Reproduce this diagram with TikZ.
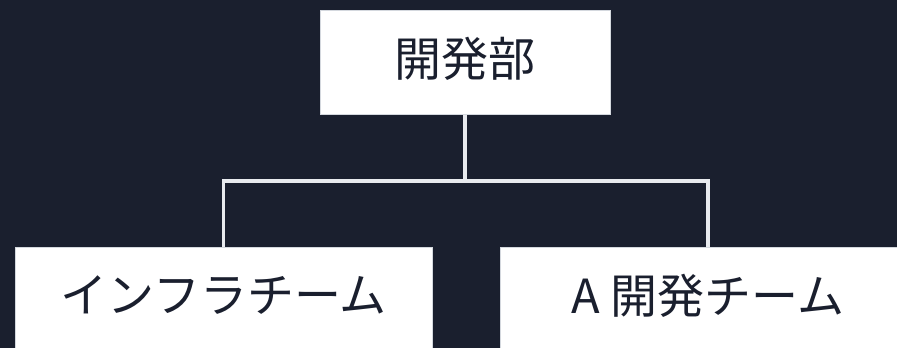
\documentclass[tikz,border=0pt]{standalone}
\usepackage{fontspec}
\newfontfamily\cjk{Noto Sans CJK JP}
\definecolor{bg}{HTML}{1A1F2E}
\definecolor{edge}{HTML}{D4D8DE}
\definecolor{linkc}{HTML}{E8EAEE}
\begin{document}
\begin{tikzpicture}[x=1pt,y=-1pt,
  box/.style={draw=edge, line width=1pt, fill=white, text=bg, inner sep=0pt,
    font=\cjk\fontsize{47}{56}\selectfont},
  link/.style={draw=linkc, line width=3.5pt}]
\fill[bg] (0,0) rectangle (897,348);
\useasboundingbox (0,0) rectangle (897,348);
\node[box, minimum width=290pt, minimum height=104pt] (top) at (465,62) {\raisebox{11pt}{開発部}};
\node[box, minimum width=417pt, minimum height=104pt] (left) at (223.5,299) {\raisebox{10pt}{インフラチーム}};
\node[box, minimum width=416pt, minimum height=104pt] (right) at (708,299) {\raisebox{10pt}{A 開発チーム}};
\coordinate (mid) at (465,181);
\draw[link] (top.south) -- (mid);
\draw[link] (left.north) |- (mid) -| (right.north);
\end{tikzpicture}
\end{document}
